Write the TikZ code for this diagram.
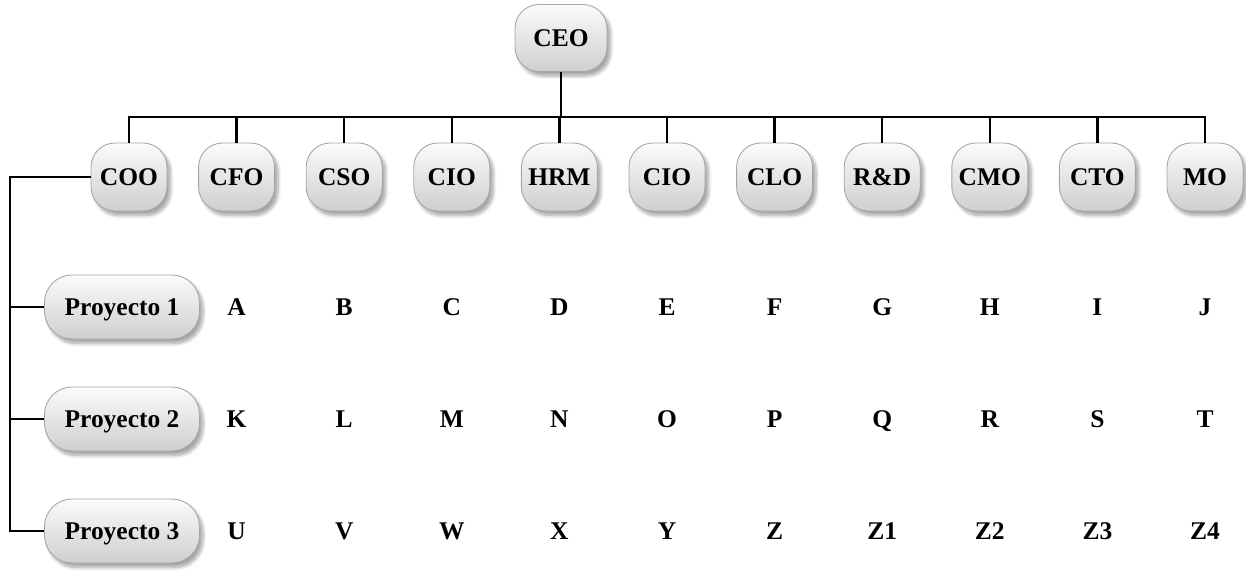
\documentclass[tikz,border=0pt]{standalone}
\usepackage{fontspec}
\setmainfont{Liberation Serif}
\usetikzlibrary{shadows.blur}

\begin{document}
\begin{tikzpicture}[line width=1.3pt,
      box/.style={draw=gray!70, line width=0.5pt, rounded corners=0.48cm,
                  top color=gray!3, bottom color=gray!38, inner sep=0pt,
                  minimum width=1.52cm, minimum height=1.36cm,
                  text height=9.6pt, text depth=0pt,
                  font=\fontsize{14.5}{16}\selectfont\bfseries,
                  blur shadow={shadow xshift=0.07cm, shadow yshift=-0.09cm,
                               shadow blur steps=8, shadow opacity=35}},
      proj/.style={box, rounded corners=0.55cm, minimum width=3.1cm, minimum height=1.28cm},
      cell/.style={text height=9.6pt, text depth=0pt,
                   font=\fontsize{14.5}{16}\selectfont\bfseries}]

    \useasboundingbox (0,0) rectangle (24.92,-11.46);

    % Rows (cm, 1cm = 50px)
    \def\yCeo{-0.76}
    \def\yBus{-2.34}
    \def\yTop{-3.54}
    \def\yA{-6.14}
    \def\yB{-8.38}
    \def\yC{-10.62}
    \def\xRail{0.2}
    \def\xProj{2.44}

    % Column x positions (spacing 2.152)
    \pgfmathsetmacro{\xa}{2.58}
    \pgfmathsetmacro{\xb}{\xa + 2.152}
    \pgfmathsetmacro{\xc}{\xa + 2*2.152}
    \pgfmathsetmacro{\xd}{\xa + 3*2.152}
    \pgfmathsetmacro{\xe}{\xa + 4*2.152}
    \pgfmathsetmacro{\xf}{\xa + 5*2.152}
    \pgfmathsetmacro{\xg}{\xa + 6*2.152}
    \pgfmathsetmacro{\xh}{\xa + 7*2.152}
    \pgfmathsetmacro{\xi}{\xa + 8*2.152}
    \pgfmathsetmacro{\xj}{\xa + 9*2.152}
    \pgfmathsetmacro{\xk}{\xa + 10*2.152}

    % Top of the chart
    \node[box, minimum width=1.84cm, minimum height=1.34cm] (ceo) at (11.22, \yCeo) {CEO};

    \node[box] (coo)  at (\xa, \yTop) {COO};
    \node[box] (cfo)  at (\xb, \yTop) {CFO};
    \node[box] (cso)  at (\xc, \yTop) {CSO};
    \node[box] (cio)  at (\xd, \yTop) {CIO};
    \node[box] (hrm)  at (\xe, \yTop) {HRM};
    \node[box] (cio2) at (\xf, \yTop) {CIO};
    \node[box] (clo)  at (\xg, \yTop) {CLO};
    \node[box] (rd)   at (\xh, \yTop) {R\&D};
    \node[box] (cmo)  at (\xi, \yTop) {CMO};
    \node[box] (cto)  at (\xj, \yTop) {CTO};
    \node[box] (mo)   at (\xk, \yTop) {MO};

    % Projects
    \node[proj] (p1) at (\xProj, \yA) {Proyecto 1};
    \node[proj] (p2) at (\xProj, \yB) {Proyecto 2};
    \node[proj] (p3) at (\xProj, \yC) {Proyecto 3};

    % Matrix cells
    \node[cell] (cA) at (\xb, \yA) {A};
    \node[cell] (cB) at (\xc, \yA) {B};
    \node[cell] (cC) at (\xd, \yA) {C};
    \node[cell] (cD) at (\xe, \yA) {D};
    \node[cell] (cE) at (\xf, \yA) {E};
    \node[cell] (cF) at (\xg, \yA) {F};
    \node[cell] (cG) at (\xh, \yA) {G};
    \node[cell] (cH) at (\xi, \yA) {H};
    \node[cell] (cI) at (\xj, \yA) {I};
    \node[cell] (cJ) at (\xk, \yA) {J};

    \node[cell] (cK) at (\xb, \yB) {K};
    \node[cell] (cL) at (\xc, \yB) {L};
    \node[cell] (cM) at (\xd, \yB) {M};
    \node[cell] (cN) at (\xe, \yB) {N};
    \node[cell] (cO) at (\xf, \yB) {O};
    \node[cell] (cP) at (\xg, \yB) {P};
    \node[cell] (cQ) at (\xh, \yB) {Q};
    \node[cell] (cR) at (\xi, \yB) {R};
    \node[cell] (cS) at (\xj, \yB) {S};
    \node[cell] (cT) at (\xk, \yB) {T};

    \node[cell] (cU)  at (\xb, \yC) {U};
    \node[cell] (cV)  at (\xc, \yC) {V};
    \node[cell] (cW)  at (\xd, \yC) {W};
    \node[cell] (cX)  at (\xe, \yC) {X};
    \node[cell] (cY)  at (\xf, \yC) {Y};
    \node[cell] (cZ)  at (\xg, \yC) {Z};
    \node[cell] (cZ1) at (\xh, \yC) {Z1};
    \node[cell] (cZ2) at (\xi, \yC) {Z2};
    \node[cell] (cZ3) at (\xj, \yC) {Z3};
    \node[cell] (cZ4) at (\xk, \yC) {Z4};

    % Connectors
    \coordinate (bus)  at (0, \yBus);
    \coordinate (rail) at (\xRail, 0);

    \draw (ceo.south) -- (ceo.south |- bus);
    \draw (coo.north) -- (coo.north |- bus) -- (mo.north |- bus) -- (mo.north);
    \draw (cfo.north)  -- (cfo.north |- bus);
    \draw (cso.north)  -- (cso.north |- bus);
    \draw (cio.north)  -- (cio.north |- bus);
    \draw (hrm.north)  -- (hrm.north |- bus);
    \draw (cio2.north) -- (cio2.north |- bus);
    \draw (clo.north)  -- (clo.north |- bus);
    \draw (rd.north)   -- (rd.north |- bus);
    \draw (cmo.north)  -- (cmo.north |- bus);
    \draw (cto.north)  -- (cto.north |- bus);

    \draw (coo.west) -- (coo.west -| rail) |- (p3.west);
    \draw (p1.west -| rail) -- (p1.west);
    \draw (p2.west -| rail) -- (p2.west);

\end{tikzpicture}
\end{document}
